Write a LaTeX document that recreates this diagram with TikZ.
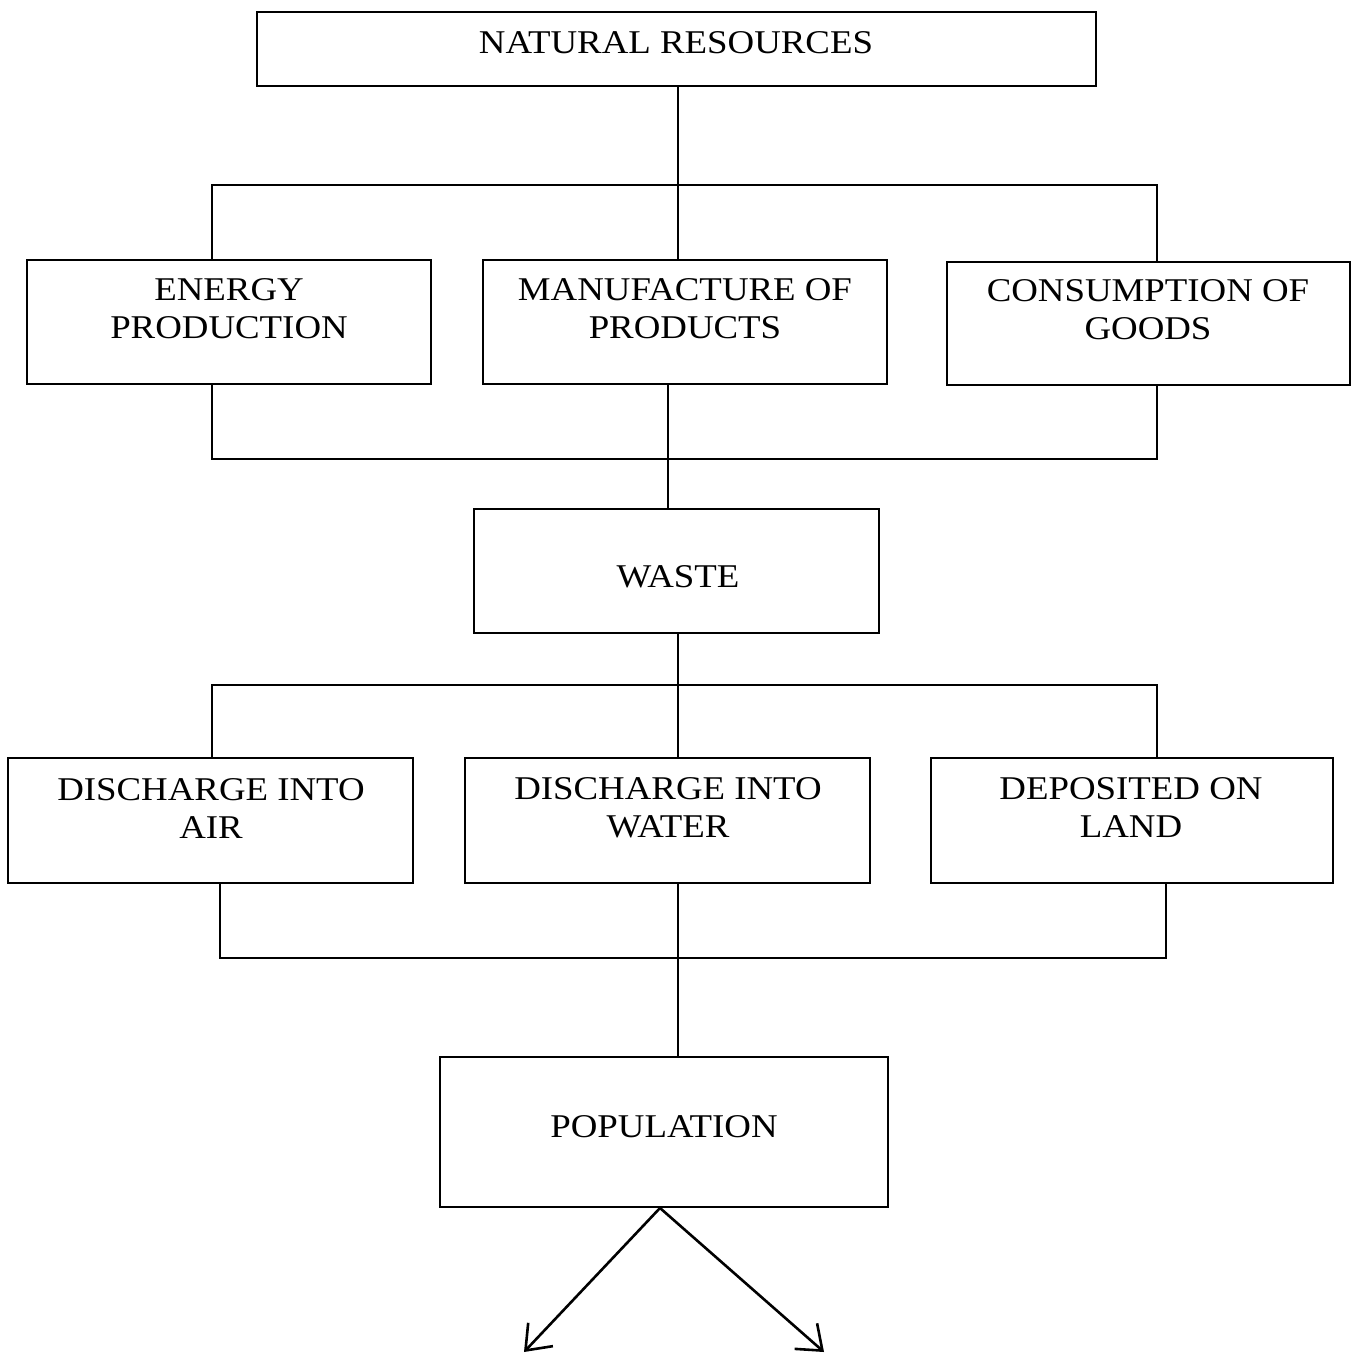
\documentclass[tikz,border=0pt]{standalone}
\usepackage{fontspec}
\setmainfont{Liberation Serif}[FakeStretch=1.11]
\usetikzlibrary{arrows.meta}
\begin{document}
\begin{tikzpicture}[x=0.5pt,y=-0.5pt,
  box/.style={draw, line width=1pt, rectangle, inner sep=0pt},
  txt/.style={align=center, inner sep=0pt, font=\fontsize{16.6}{19}\selectfont},
  conn/.style={line width=1pt},
  arr/.style={line width=1.3pt, -{Straight Barb[length=11pt,width=17pt,line width=1.3pt]}}]
\useasboundingbox (0,0) rectangle (1357,1358);
% boxes
\node[box, minimum width=419.5pt, minimum height=37pt] (nr) at (676.5,49) {};
\node[box, minimum width=202pt, minimum height=62pt] (en) at (229,322) {};
\node[box, minimum width=202pt, minimum height=62pt] (mf) at (685,322) {};
\node[box, minimum width=201.5pt, minimum height=61.5pt] (co) at (1148.5,323.5) {};
\node[box, minimum width=202.5pt, minimum height=62pt] (ws) at (676.5,571) {};
\node[box, minimum width=202.5pt, minimum height=62.5pt] (air) at (210.5,820.5) {};
\node[box, minimum width=202.5pt, minimum height=62.5pt] (wat) at (667.5,820.5) {};
\node[box, minimum width=201pt, minimum height=62.5pt] (land) at (1132,820.5) {};
\node[box, minimum width=224pt, minimum height=75pt] (pop) at (664,1132) {};
% texts
\node[txt] (nrt) at (676,43) {NATURAL RESOURCES};
\node[txt] (ent) at (229,308.5) {ENERGY\\PRODUCTION};
\node[txt] (mft) at (685,309) {MANUFACTURE OF\\PRODUCTS};
\node[txt] (cot) at (1148,310) {CONSUMPTION OF\\GOODS};
\node[txt] (wst) at (678,577) {WASTE};
\node[txt] (airt) at (211,808) {DISCHARGE INTO\\AIR};
\node[txt] (watt) at (668,808) {DISCHARGE INTO\\WATER};
\node[txt] (landt) at (1131,808) {DEPOSITED ON\\LAND};
\node[txt] (popt) at (664,1127) {POPULATION};
% bus coordinates
\coordinate (AL) at (212,185); \coordinate (AM) at (678,185); \coordinate (AR) at (1157,185);
\coordinate (BL) at (212,459); \coordinate (BM) at (668,459); \coordinate (BR) at (1157,459);
\coordinate (CL) at (212,685); \coordinate (CM) at (678,685); \coordinate (CR) at (1157,685);
\coordinate (DL) at (220,958); \coordinate (DM) at (678,958); \coordinate (DR) at (1166,958);
\coordinate (E1) at (524,1352); \coordinate (E2) at (824,1352);
% connectors
\draw[conn] (AM |- nr.south) -- (AM);
\draw[conn] (AL |- en.north) -- (AL) -- (AR) -- (AR |- co.north);
\draw[conn] (AM) -- (AM |- mf.north);
\draw[conn] (BL |- en.south) -- (BL) -- (BR) -- (BR |- co.south);
\draw[conn] (BM |- mf.south) -- (BM |- ws.north);
\draw[conn] (CM |- ws.south) -- (CM);
\draw[conn] (CL |- air.north) -- (CL) -- (CR) -- (CR |- land.north);
\draw[conn] (CM) -- (CM |- wat.north);
\draw[conn] (DL |- air.south) -- (DL) -- (DR) -- (DR |- land.south);
\draw[conn] (DM |- wat.south) -- (DM |- pop.north);
\draw[arr] ([xshift=-2pt]pop.south) -- (E1);
\draw[arr] ([xshift=-2pt]pop.south) -- (E2);
\end{tikzpicture}
\end{document}
